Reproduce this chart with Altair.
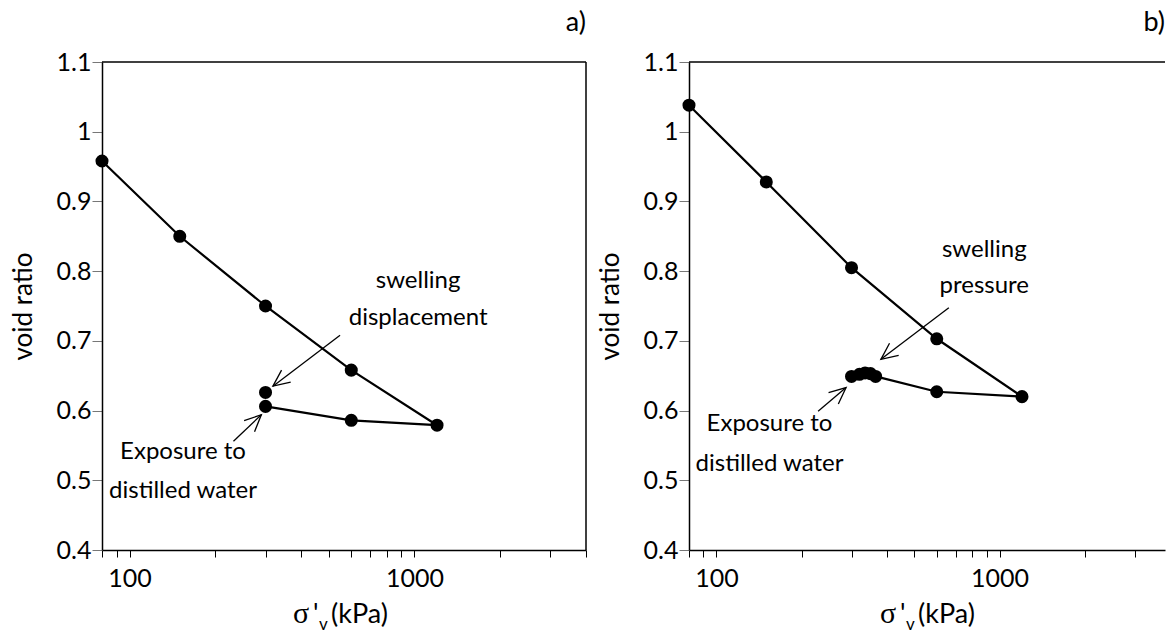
import math
import altair as alt
import pandas as pd

FONT = "Lato"

# ---------------- data ----------------
# panel a) : swelling displacement test
a_stress = [80, 150, 300, 600, 1200, 600, 300]
a_void = [0.958, 0.850, 0.750, 0.658, 0.579, 0.586, 0.606]
a_swell_stress = [300]
a_swell_void = [0.626]

# panel b) : swelling pressure test
b_stress = [80, 150, 300, 600, 1200, 600, 365, 350, 335, 320, 300]
b_void = [1.038, 0.928, 0.805, 0.703, 0.620, 0.627, 0.649, 0.653, 0.654, 0.652, 0.649]

# annotation texts (data coordinates of the text anchors)
a_label_text = ["swelling", "displacement", "Exposure to", "distilled water"]
a_label_x = [1030, 1030, 154, 154]
a_label_y = [0.776, 0.723, 0.530, 0.475]
b_label_text = ["swelling", "pressure", "Exposure to", "distilled water"]
b_label_x = [883, 883, 154, 154]
b_label_y = [0.820, 0.769, 0.571, 0.513]

# annotation arrows (tail -> tip, data coordinates)
a_arrow_x0 = [548, 231.5]
a_arrow_y0 = [0.708, 0.556]
a_arrow_x1 = [318.5, 290]
a_arrow_y1 = [0.635, 0.594]
b_arrow_x0 = [662, 228.6]
b_arrow_y0 = [0.7475, 0.599]
b_arrow_x1 = [381, 287]
b_arrow_y1 = [0.6735, 0.633]

# axes
x_min = 80
a_x_max = 4000
b_x_max = 3840          # right panel is cut by the picture edge
y_min, y_max = 0.4, 1.1
x_ticks = [80, 90, 100, 200, 300, 400, 500, 600, 700, 800, 900, 1000, 2000, 3000, 4000]
y_ticks = [0.4, 0.5, 0.6, 0.7, 0.8, 0.9, 1.0, 1.1]

W_A, W_B, H = 484, 476, 488
HEAD_PATH = "M -0.42 0.92 L 0 0 L 0.42 0.92"


def to_px(xv, yv, x_max, W):
    px = W * (math.log10(xv) - math.log10(x_min)) / (math.log10(x_max) - math.log10(x_min))
    py = H * (y_max - yv) / (y_max - y_min)
    return px, py


def panel(stress, void, ex_s, ex_v, lt, lx, ly, ax0, ay0, ax1, ay1, x_max, W, tag, right_border):
    xs = alt.Scale(type="log", domain=[x_min, x_max], nice=False)
    ys = alt.Scale(domain=[y_min, y_max], nice=False, zero=False)
    xaxis = alt.Axis(
        values=x_ticks, format="d",
        labelExpr="(datum.value == 100 || datum.value == 1000) ? datum.label : ''",
        title=None, grid=False, tickSize=7, tickColor="black", tickWidth=1,
        domainColor="black", domainWidth=1.5, labelFont=FONT, labelFontSize=25,
        labelColor="black", labelPadding=9, labelFlush=False, labelOverlap=False,
    )
    yaxis = alt.Axis(
        values=y_ticks, format="~g", title="void ratio", grid=False,
        tickSize=10, tickColor="#777777", tickWidth=1,
        domainColor="black", domainWidth=1.5, labelFont=FONT, labelFontSize=25,
        labelColor="black", labelPadding=1,
        titleFont=FONT, titleFontSize=26, titleFontWeight="normal", titleColor="black",
        titleAngle=270, titleX=-71, titleY=H / 2, titleBaseline="alphabetic", titleAlign="center",
    )

    df = pd.DataFrame({"s": stress, "e": void, "i": list(range(len(stress)))})
    dex = pd.DataFrame({"s": ex_s, "e": ex_v})
    dlab = pd.DataFrame({"s": lx, "e": ly, "t": lt})
    angs = []
    for x0, y0, x1, y1 in zip(ax0, ay0, ax1, ay1):
        p0 = to_px(x0, y0, x_max, W)
        p1 = to_px(x1, y1, x_max, W)
        dx, dy = p1[0] - p0[0], p1[1] - p0[1]
        angs.append(math.degrees(math.atan2(dx, -dy)) % 360)
    darr = pd.DataFrame({"s": ax0, "e": ay0, "s2": ax1, "e2": ay1, "ang": angs})

    X = alt.X("s:Q", scale=xs, axis=xaxis)
    Y = alt.Y("e:Q", scale=ys, axis=yaxis)

    line = alt.Chart(df).mark_line(color="black", strokeWidth=2.2).encode(x=X, y=Y, order="i:Q")
    dots = alt.Chart(df).mark_circle(size=170, color="black", opacity=1).encode(x=X, y=Y)
    extra = alt.Chart(dex).mark_circle(size=170, color="black", opacity=1).encode(x=X, y=Y)
    shafts = alt.Chart(darr).mark_rule(color="black", strokeWidth=1.3).encode(
        x=X, y=Y, x2="s2:Q", y2="e2:Q")
    heads = alt.Chart(darr).mark_point(
        shape=HEAD_PATH, filled=False, size=1296, strokeWidth=1.3, color="black", opacity=1
    ).encode(x=alt.X("s2:Q", scale=xs, axis=xaxis), y=alt.Y("e2:Q", scale=ys, axis=yaxis),
             angle=alt.Angle("ang:Q", scale=None))
    texts = alt.Chart(dlab).mark_text(
        font=FONT, fontSize=24, color="black", align="center", baseline="alphabetic"
    ).encode(x=X, y=Y, text="t:N")

    one = alt.Data(values=[{"k": 0}])
    top = alt.Chart(one).mark_rule(color="black", strokeWidth=1.5).encode(
        x=alt.value(0), x2=alt.value(W), y=alt.value(0))
    layers = [line, dots, extra, shafts, heads, texts, top]
    if right_border:
        layers.append(alt.Chart(one).mark_rule(color="black", strokeWidth=1.5).encode(
            x=alt.value(W), y=alt.value(0), y2=alt.value(H)))

    # panel tag a) / b)
    layers.append(alt.Chart(one).mark_text(text=tag, font=FONT, fontSize=27, color="black",
                                           align="right", baseline="alphabetic").encode(
        x=alt.value(W), y=alt.value(-31)))

    cx = 242
    base = H + 73
    layers += [
        alt.Chart(one).mark_text(text="σ", font="Liberation Serif", fontSize=30, color="black",
                                 align="left", baseline="alphabetic").encode(
            x=alt.value(cx - 51), y=alt.value(base)),
        alt.Chart(one).mark_text(text="'", font=FONT, fontSize=27, color="black",
                                 align="left", baseline="alphabetic").encode(
            x=alt.value(cx - 31), y=alt.value(base)),
        alt.Chart(one).mark_text(text="v", font=FONT, fontSize=17, color="black",
                                 align="left", baseline="alphabetic").encode(
            x=alt.value(cx - 25), y=alt.value(base + 7)),
        alt.Chart(one).mark_text(text="(kPa)", font=FONT, fontSize=27, color="black",
                                 align="left", baseline="alphabetic").encode(
            x=alt.value(cx - 13), y=alt.value(base)),
    ]
    return alt.layer(*layers).properties(width=W, height=H)


pa = panel(a_stress, a_void, a_swell_stress, a_swell_void, a_label_text, a_label_x, a_label_y,
           a_arrow_x0, a_arrow_y0, a_arrow_x1, a_arrow_y1, a_x_max, W_A, "a)", True)
pb = panel(b_stress, b_void, [], [], b_label_text, b_label_x, b_label_y,
           b_arrow_x0, b_arrow_y0, b_arrow_x1, b_arrow_y1, b_x_max, W_B, "b)", False)

chart = alt.hconcat(pa, pb, spacing=10).properties(
    padding={"left": 10, "top": 9, "right": 0, "bottom": 0}
).configure(font=FONT, view=alt.ViewConfig(stroke=None))

chart.save("out.html", embed_options={"renderer": "svg", "actions": False})
